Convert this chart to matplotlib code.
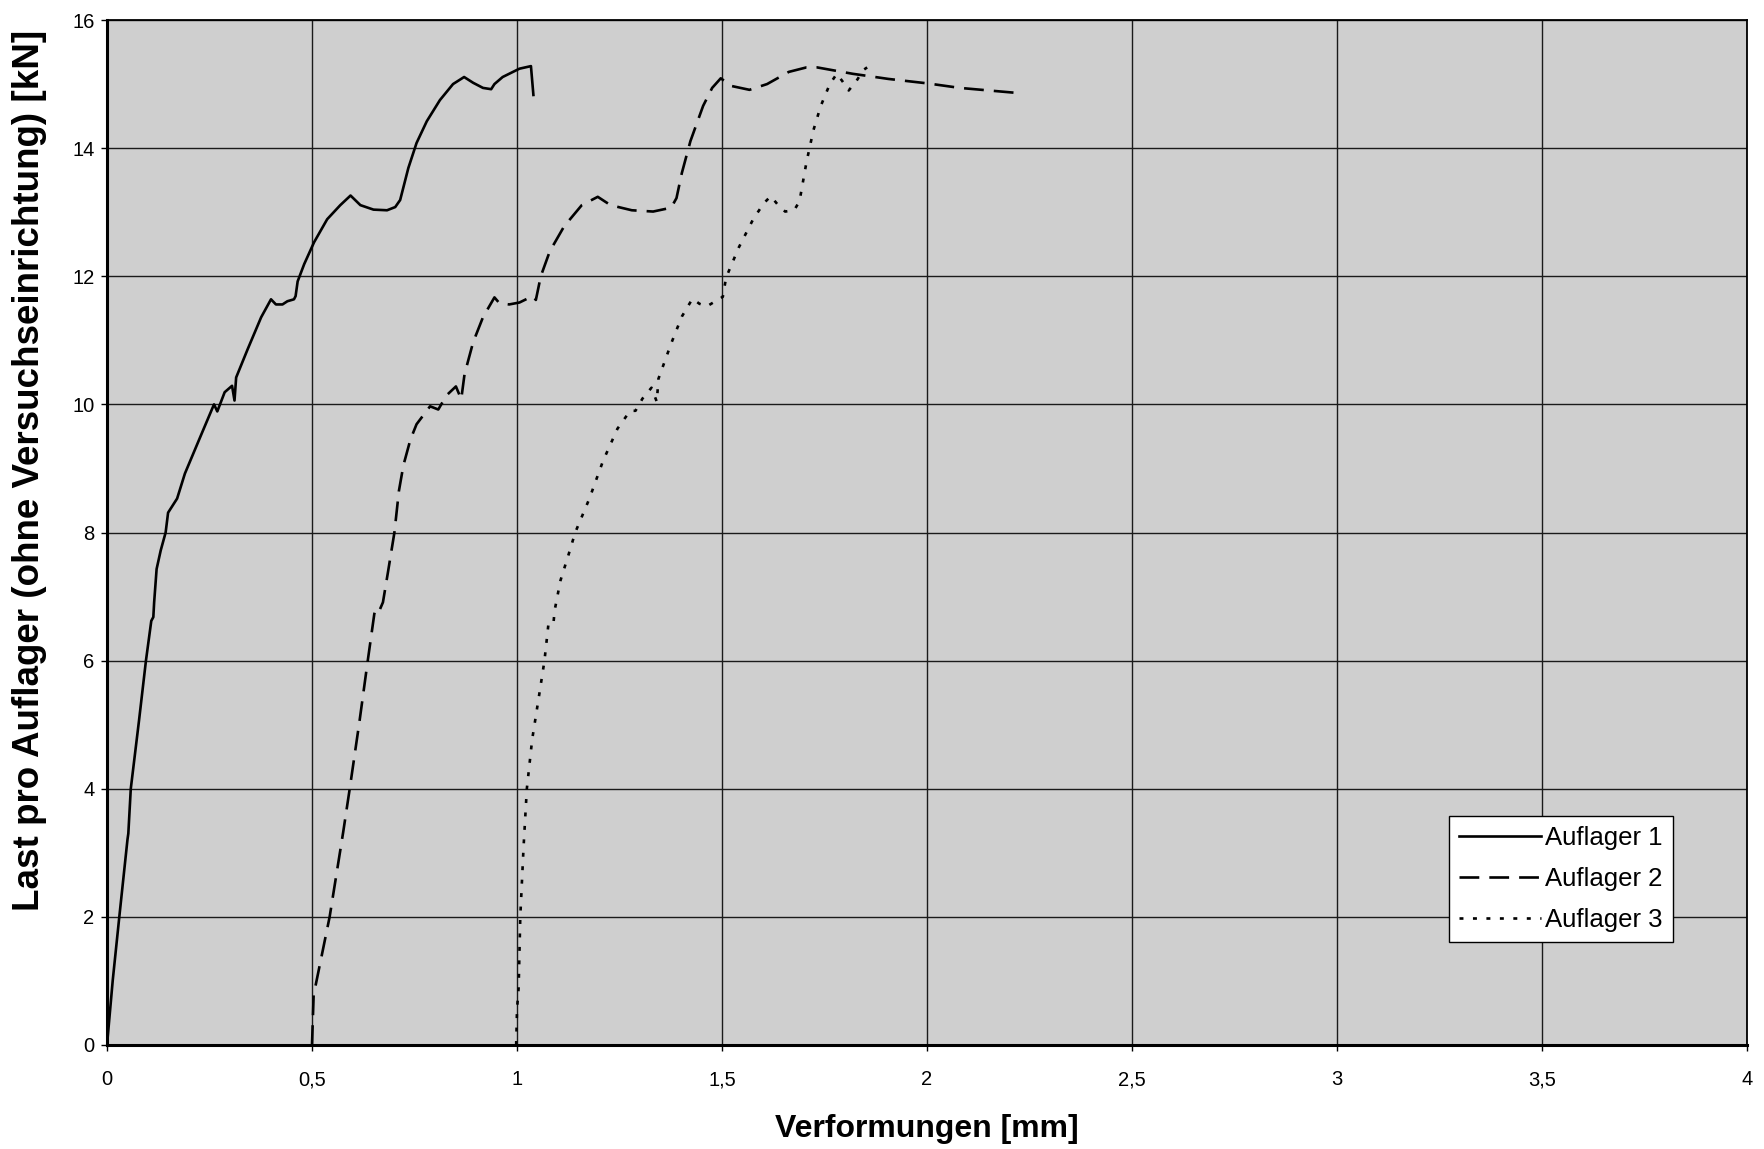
import matplotlib
matplotlib.use("Agg")
import matplotlib.pyplot as plt
from matplotlib.ticker import FuncFormatter

plt.rcParams['font.family'] = ['Liberation Sans', 'DejaVu Sans']

# Auflager 1 (solid)
a1_x = [0.0, 0.014, 0.030, 0.050, 0.052, 0.058, 0.078, 0.095, 0.108, 0.113, 0.115,
        0.121, 0.131, 0.143, 0.149, 0.171, 0.190, 0.230, 0.261, 0.269, 0.287, 0.305,
        0.311, 0.315, 0.343, 0.376, 0.400, 0.412, 0.428, 0.440, 0.456, 0.460, 0.465,
        0.481, 0.505, 0.537, 0.569, 0.594, 0.618, 0.650, 0.683, 0.703, 0.715, 0.735,
        0.755, 0.780, 0.812, 0.844, 0.871, 0.893, 0.917, 0.937, 0.945, 0.965, 1.006,
        1.034, 1.040]
a1_y = [0.0, 1.01, 2.0, 3.21, 3.3, 4.0, 5.06, 6.0, 6.62, 6.68, 6.91,
        7.43, 7.72, 8.0, 8.31, 8.53, 8.92, 9.53, 10.0, 9.89, 10.19, 10.29,
        10.06, 10.42, 10.86, 11.36, 11.64, 11.56, 11.56, 11.61, 11.64, 11.69, 11.92,
        12.19, 12.53, 12.89, 13.11, 13.26, 13.11, 13.04, 13.03, 13.08, 13.19, 13.69,
        14.08, 14.42, 14.75, 15.0, 15.11, 15.02, 14.94, 14.92, 15.0, 15.11, 15.24,
        15.28, 14.83]

# Auflager 2 (dashed)
a2_x = [0.500, 0.504, 0.543, 0.576, 0.592, 0.616, 0.636, 0.652, 0.656, 0.665, 0.673,
        0.685, 0.701, 0.712, 0.723, 0.740, 0.755, 0.788, 0.808, 0.828, 0.851, 0.864,
        0.872, 0.893, 0.917, 0.945, 0.957, 0.981, 1.006, 1.038, 1.046, 1.058, 1.080,
        1.115, 1.158, 1.197, 1.228, 1.280, 1.332, 1.376, 1.389, 1.402, 1.423, 1.454,
        1.476, 1.497, 1.523, 1.567, 1.610, 1.663, 1.706, 1.732, 1.819, 1.906, 2.002,
        2.080, 2.222]
a2_y = [0.0, 0.78, 2.0, 3.32, 4.0, 5.06, 6.0, 6.73, 6.82, 6.79, 6.91,
        7.37, 8.0, 8.65, 9.05, 9.45, 9.69, 9.97, 9.92, 10.14, 10.28, 10.08,
        10.47, 10.97, 11.36, 11.67, 11.58, 11.56, 11.59, 11.69, 11.63, 12.0, 12.39,
        12.78, 13.11, 13.24, 13.11, 13.03, 13.01, 13.07, 13.22, 13.61, 14.11, 14.66,
        14.94, 15.09, 14.97, 14.91, 15.0, 15.19, 15.26, 15.26, 15.16, 15.08, 15.01,
        14.94, 14.86]

# Auflager 3 (dotted)
a3_x = [0.998, 1.000, 1.004, 1.008, 1.016, 1.024, 1.037, 1.053, 1.067, 1.077, 1.089,
        1.092, 1.106, 1.126, 1.142, 1.176, 1.210, 1.245, 1.276, 1.289, 1.306, 1.328,
        1.341, 1.345, 1.376, 1.402, 1.428, 1.445, 1.463, 1.484, 1.502, 1.510, 1.541,
        1.576, 1.602, 1.619, 1.637, 1.654, 1.676, 1.689, 1.706, 1.723, 1.741, 1.763,
        1.780, 1.793, 1.809, 1.828, 1.845, 1.854]
a3_y = [0.0, 0.55, 0.90, 2.0, 3.09, 4.0, 4.77, 5.42, 6.0, 6.59, 6.59,
        6.79, 7.25, 7.66, 8.0, 8.52, 9.12, 9.62, 9.90, 9.90, 10.09, 10.26,
        10.04, 10.40, 10.95, 11.37, 11.65, 11.57, 11.53, 11.61, 11.68, 11.98, 12.45,
        12.89, 13.14, 13.25, 13.11, 13.01, 13.03, 13.17, 13.78, 14.28, 14.66, 15.0,
        15.16, 15.05, 14.90, 15.05, 15.22, 15.26]

labels = ["Auflager 1", "Auflager 2", "Auflager 3"]
x_ticks = [0, 0.5, 1, 1.5, 2, 2.5, 3, 3.5, 4]
y_ticks = [0, 2, 4, 6, 8, 10, 12, 14, 16]

fig = plt.figure(figsize=(17.64, 11.49), dpi=100)
fig.patch.set_facecolor('white')
ax = fig.add_axes([107/1764, 1 - 1045/1149, 1640/1764, 1025/1149])
ax.set_facecolor('#cfcfcf')

ax.plot(a1_x, a1_y, color='black', lw=1.9, linestyle='-', label=labels[0], zorder=3)
ax.plot(a2_x, a2_y, color='black', lw=1.9, linestyle=(0, (7.5, 3.8)), label=labels[1], zorder=3)
ax.plot(a3_x, a3_y, color='black', lw=1.9, linestyle=(0, (1.5, 3.6)), label=labels[2], zorder=3)

ax.set_xlim(0, 4)
ax.set_ylim(0, 16)
ax.set_xticks(x_ticks)
ax.set_yticks(y_ticks)
fmt = FuncFormatter(lambda v, p: ('%g' % v).replace('.', ','))
ax.xaxis.set_major_formatter(fmt)
ax.yaxis.set_major_formatter(fmt)
ax.grid(True, color='#1a1a1a', lw=1.0, zorder=1)
ax.set_axisbelow(True)
ax.tick_params(axis='both', direction='out', length=4, width=1, labelsize=14.5,
               colors='black')
ax.tick_params(axis='y', pad=5)
ax.tick_params(axis='x', pad=14)
for s in ax.spines.values():
    s.set_color('black')
    s.set_linewidth(1.3)
ax.spines['bottom'].set_linewidth(2.2)
ax.spines['left'].set_linewidth(2.2)

ax.set_xlabel("Verformungen [mm]", fontsize=23, fontweight='bold', labelpad=18)
ax.set_ylabel("Last pro Auflager (ohne Versuchseinrichtung) [kN]", fontsize=26.5,
              fontweight='bold')
ax.yaxis.set_label_coords(-0.0366, 0.561)

leg = ax.legend(loc='upper left', bbox_to_anchor=(0.818, 0.2234), fontsize=18.5,
                frameon=True, fancybox=False, edgecolor='black', facecolor='white',
                framealpha=1, handlelength=3.2, handletextpad=0.15, borderpad=0.4,
                labelspacing=0.66, borderaxespad=0)
leg.get_frame().set_linewidth(1.0)

fig.savefig("out.png", dpi=100)
